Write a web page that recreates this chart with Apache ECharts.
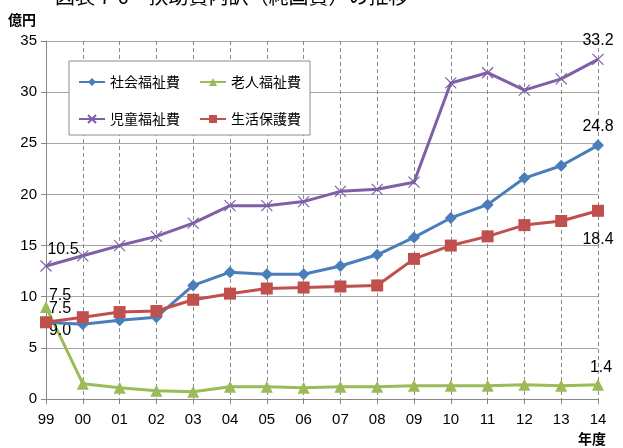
<!DOCTYPE html>
<html>
<head>
<meta charset="utf-8">
<script src="https://cdn.jsdelivr.net/npm/echarts@6/dist/echarts.min.js"></script>
<style>
  html, body { margin: 0; padding: 0; background: #fff; }
  #chart { width: 623px; height: 448px; }
</style>
</head>
<body>
<div id="chart"></div>
<script>
// 年度（99 = 1999 年度 … 14 = 2014 年度）
const years = ['99','00','01','02','03','04','05','06','07','08','09','10','11','12','13','14'];

// 扶助費の内訳（億円）
const shakaiFukushi = [7.5, 7.3, 7.7, 8.0, 11.1, 12.4, 12.2, 12.2, 13.0, 14.1, 15.8, 17.7, 19.0, 21.6, 22.8, 24.8];
const roujinFukushi = [9.0, 1.5, 1.1, 0.8, 0.7, 1.2, 1.2, 1.1, 1.2, 1.2, 1.3, 1.3, 1.3, 1.4, 1.3, 1.4];
const jidouFukushi  = [13.0, 14.0, 15.0, 15.9, 17.2, 18.9, 18.9, 19.3, 20.3, 20.5, 21.2, 30.9, 31.9, 30.2, 31.3, 33.2];
const seikatsuHogo  = [7.5, 8.0, 8.5, 8.6, 9.7, 10.3, 10.8, 10.9, 11.0, 11.1, 13.7, 15.0, 15.9, 17.0, 17.4, 18.4];

// 初年度に添える注記の文字
const firstYearNote = { jidou: '10.5' };

// y 軸の目盛
const yMin = 0, yMax = 35, yStep = 5;

const seriesNames = ['社会福祉費', '老人福祉費', '児童福祉費', '生活保護費'];
const colors = ['#4A7EBB', '#9BBB59', '#7F5FA6', '#C0504D'];

const numFont = "'Liberation Sans', Arial, sans-serif";
const jpFont = "'Noto Sans CJK JP', sans-serif";

// 最初と最後の点だけにラベルを付ける
function withEndLabels(values, first, last) {
  return values.map((v, i) => {
    const item = { value: v };
    if (i === 0 && first) item.label = Object.assign({ show: true }, first);
    if (i === values.length - 1 && last) item.label = Object.assign({ show: true }, last);
    return item;
  });
}

const labelBase = {
  color: '#000', fontSize: 16, fontFamily: numFont,
  formatter: p => Number(p.value).toFixed(1)
};

const crossPath = 'path://M0,0L10,10M10,0L0,10';

const chart = echarts.init(document.getElementById('chart'), null, { renderer: 'canvas' });

chart.setOption({
  animation: false,
  backgroundColor: '#fff',
  title: {
    text: '図表 7-6　扶助費内訳（純国費）の推移',
    left: 50, top: -19,
    textStyle: { fontFamily: jpFont, fontSize: 20, fontWeight: 'normal', color: '#000' }
  },
  grid: { left: 46, right: 25, top: 41, bottom: 49, containLabel: false },
  legend: {
    orient: 'horizontal',
    left: 69, top: 61,
    width: 223,
    padding: [12, 9, 7, 9],
    itemGap: 19,
    itemWidth: 26, itemHeight: 10,
    borderColor: '#8c8c8c', borderWidth: 1,
    backgroundColor: '#fff',
    data: seriesNames,
    textStyle: { fontFamily: jpFont, fontSize: 14, color: '#000', lineHeight: 18 }
  },
  xAxis: {
    type: 'category',
    data: years,
    boundaryGap: false,
    name: '年度',
    nameLocation: 'end',
    nameGap: -6,
    nameTextStyle: {
      fontFamily: jpFont, fontSize: 14, fontWeight: 'bold', color: '#000',
      align: 'center', verticalAlign: 'top', padding: [33, 0, 0, 0]
    },
    axisLine: { show: true, lineStyle: { color: '#868686', width: 1 } },
    axisTick: { show: true, alignWithLabel: true, length: 5, lineStyle: { color: '#868686' } },
    axisLabel: { color: '#000', fontSize: 15, fontFamily: numFont, margin: 13 },
    splitLine: { show: true, lineStyle: { color: '#8a8a8a', type: [4, 3], width: 1 } }
  },
  yAxis: {
    type: 'value',
    min: yMin, max: yMax, interval: yStep,
    name: '億円',
    nameLocation: 'end',
    nameGap: 14,
    nameTextStyle: {
      fontFamily: jpFont, fontSize: 14, fontWeight: 'bold', color: '#000',
      align: 'right', padding: [0, 10, 0, 0]
    },
    axisLine: { show: true, lineStyle: { color: '#868686', width: 1 } },
    axisTick: { show: true, length: 5, lineStyle: { color: '#868686' } },
    axisLabel: { color: '#000', fontSize: 15, fontFamily: numFont, margin: 9 },
    splitLine: { show: true, lineStyle: { color: '#a6a6a6', width: 1 } }
  },
  series: [
    {
      name: seriesNames[0], type: 'line',
      data: withEndLabels(shakaiFukushi,
        Object.assign({}, labelBase, { position: 'inside', offset: [14, -14] }),
        Object.assign({}, labelBase, { position: 'top', distance: 5 })),
      symbol: 'diamond', symbolSize: 12,
      lineStyle: { color: colors[0], width: 3 },
      itemStyle: { color: colors[0] },
      z: 4
    },
    {
      name: seriesNames[1], type: 'line',
      data: withEndLabels(roujinFukushi,
        Object.assign({}, labelBase, { position: 'inside', offset: [14, 24] }),
        Object.assign({}, labelBase, { position: 'top', distance: 3, offset: [3, 0] })),
      symbol: 'triangle', symbolSize: 12,
      lineStyle: { color: colors[1], width: 3 },
      itemStyle: { color: colors[1] },
      z: 3
    },
    {
      name: seriesNames[2], type: 'line',
      data: withEndLabels(jidouFukushi,
        Object.assign({}, labelBase, { position: 'inside', offset: [17, -16], formatter: firstYearNote.jidou }),
        Object.assign({}, labelBase, { position: 'top', distance: 3 })),
      symbol: crossPath, symbolSize: 11,
      lineStyle: { color: colors[2], width: 3 },
      itemStyle: { color: 'none', borderColor: colors[2], borderWidth: 1.2 },
      z: 2
    },
    {
      name: seriesNames[3], type: 'line',
      data: withEndLabels(seikatsuHogo,
        Object.assign({}, labelBase, { position: 'inside', offset: [14, -27] }),
        Object.assign({}, labelBase, { position: 'bottom', distance: 15 })),
      symbol: 'rect', symbolSize: 12,
      lineStyle: { color: colors[3], width: 3 },
      itemStyle: { color: colors[3] },
      z: 5
    }
  ]
});
</script>
</body>
</html>
